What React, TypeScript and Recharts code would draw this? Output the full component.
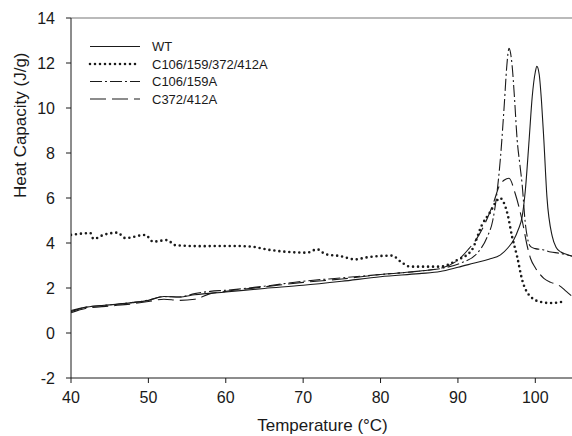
import { LineChart, Line, XAxis, YAxis, ReferenceLine } from 'recharts'

// Readings: [temperature °C, heat capacity J/g]
const wtPoints = [
  [40, 1.0], [42, 1.15], [45, 1.25], [48, 1.35], [50, 1.45], [52, 1.62], [54, 1.6],
  [56, 1.7], [60, 1.82], [65, 1.98], [70, 2.12], [75, 2.3], [80, 2.5], [85, 2.64],
  [87.7, 2.73], [90, 2.92], [92, 3.1], [94, 3.28], [95.5, 3.47], [96.5, 3.8], [97.2, 4.13],
  [97.8, 4.6], [98.3, 5.17], [98.7, 6.3], [99.2, 8.58], [99.6, 10.5], [100, 11.6],
  [100.2, 11.85], [100.5, 11.5], [100.8, 10.3], [101.1, 8.6], [101.5, 6.06], [102.2, 4.28],
  [102.7, 3.8], [103.3, 3.6], [104, 3.5], [105, 3.38],
]

const quadPoints = [
  [40, 4.36], [42.5, 4.44], [42.9, 4.18], [44.2, 4.36], [46, 4.46], [47, 4.22],
  [49.6, 4.36], [50.6, 4.06], [52.4, 4.13], [53.5, 3.9], [56.9, 3.86], [60.6, 3.87],
  [63.2, 3.84], [65.7, 3.69], [70.5, 3.57], [71.8, 3.72], [72.9, 3.5], [74.8, 3.42],
  [76.7, 3.27], [78.2, 3.36], [81.5, 3.44], [82.6, 3.17], [83.8, 2.95], [87.7, 2.95],
  [89.9, 3.24], [91.8, 3.69], [93.1, 4.8], [94.2, 5.39], [95.07, 5.9], [95.4, 6.0],
  [96.4, 5.3], [97, 4.28], [97.65, 3.4], [98.3, 2.36], [99.4, 1.61], [100.7, 1.38],
  [102, 1.33], [103.5, 1.39],
]

const c106Points = [
  [40, 0.95], [42, 1.15], [45, 1.25], [48, 1.36], [50, 1.46], [52, 1.62], [54, 1.6],
  [56, 1.75], [58, 1.85], [60, 1.9], [65, 2.08], [70, 2.3], [75, 2.45], [80, 2.6],
  [85, 2.75], [88, 2.88], [90.3, 3.1], [92.5, 3.55], [93.8, 4.28], [94.5, 5.0],
  [95, 6.1], [95.5, 7.8], [96, 10.2], [96.3, 11.8], [96.6, 12.65], [97, 11.9],
  [97.3, 10.5], [97.65, 8.6], [98, 7.5], [98.3, 6.6], [98.7, 4.9], [99, 4.2],
  [99.4, 3.84], [100, 3.75], [101, 3.7], [102, 3.6], [103, 3.55], [104, 3.48], [105, 3.4],
]

const c372Points = [
  [40, 0.9], [42, 1.1], [45, 1.2], [48, 1.3], [50, 1.4], [52, 1.5], [54, 1.45],
  [56, 1.5], [58, 1.75], [60, 1.85], [65, 2.05], [70, 2.25], [75, 2.4], [80, 2.6],
  [85, 2.75], [88, 2.9], [90.3, 3.33], [91.3, 3.7], [92.3, 4.13], [93.8, 5.1],
  [94.65, 5.84], [95.3, 6.5], [96, 6.8], [96.6, 6.88], [97.4, 6.2], [98.3, 5.0],
  [99, 3.8], [99.4, 3.3], [100, 2.9], [101.1, 2.43], [102, 2.25], [103, 2.13],
  [104, 1.85], [105, 1.55],
]

const xTicks = [40, 50, 60, 70, 80, 90, 100]
const yTicks = [-2, 0, 2, 4, 6, 8, 10, 12, 14]

const toRows = (pts: number[][]) => pts.map(([x, y]) => ({ x, y }))

const FONT = '"Liberation Sans", Arial, sans-serif'
const INK = '#1a1a1a'

const SERIES = [
  { name: 'WT', points: wtPoints, dash: undefined, width: 1.1, cap: 'butt' },
  { name: 'C106/159/372/412A', points: quadPoints, dash: '0 5', width: 2.6, cap: 'round' },
  { name: 'C106/159A', points: c106Points, dash: '12 3 2 3', width: 1.1, cap: 'butt' },
  { name: 'C372/412A', points: c372Points, dash: '16 6', width: 1.1, cap: 'butt' },
] as const

function LegendBox() {
  return (
    <svg width={220} height={72} style={{ position: 'absolute', top: 38, left: 88 }}>
      {SERIES.map((s, i) => {
        const y = 8.5 + i * 17.5
        return (
          <g key={s.name}>
            <line
              x1={2}
              x2={52}
              y1={y}
              y2={y}
              stroke={INK}
              strokeWidth={s.width}
              strokeDasharray={s.dash}
              strokeLinecap={s.cap}
            />
            <text x={64} y={y + 4.5} fontSize={13} fontFamily={FONT} fill={INK}>
              {s.name}
            </text>
          </g>
        )
      })}
    </svg>
  )
}

export default function App() {
  return (
    <div style={{ position: 'absolute', left: 0, top: 0, width: 572, height: 436, overflow: 'hidden', background: '#fff' }}>
      <LineChart width={576} height={436} margin={{ top: 18, right: 2, left: 0, bottom: 0 }}>
        <XAxis
          type="number"
          dataKey="x"
          domain={[40, 105]}
          ticks={xTicks}
          allowDataOverflow
          tick={{ fontSize: 16, fill: INK, fontFamily: FONT }}
          tickSize={5}
          tickMargin={9}
          tickLine={{ stroke: INK }}
          axisLine={{ stroke: INK }}
          height={58}
          label={{ value: 'Temperature (°C)', position: 'insideBottom', offset: 5, fontSize: 17, fill: INK, fontFamily: FONT }}
        />
        <YAxis
          type="number"
          domain={[-2, 14]}
          ticks={yTicks}
          allowDataOverflow
          width={71}
          tick={{ fontSize: 16, fill: INK, fontFamily: FONT }}
          tickSize={5}
          tickMargin={11}
          tickLine={{ stroke: INK }}
          axisLine={{ stroke: INK }}
          label={{ value: 'Heat Capacity (J/g)', angle: -90, position: 'insideLeft', offset: 20, fontSize: 17, fill: INK, fontFamily: FONT }}
        />
        <ReferenceLine y={14} stroke="#777" strokeWidth={1.2} />
        {SERIES.map((s) => (
          <Line
            key={s.name}
            data={toRows(s.points as unknown as number[][])}
            dataKey="y"
            name={s.name}
            type="monotone"
            stroke={INK}
            strokeWidth={s.width}
            strokeDasharray={s.dash}
            strokeLinecap={s.cap}
            dot={false}
            activeDot={false}
            isAnimationActive={false}
          />
        ))}
      </LineChart>
      <LegendBox />
    </div>
  )
}
